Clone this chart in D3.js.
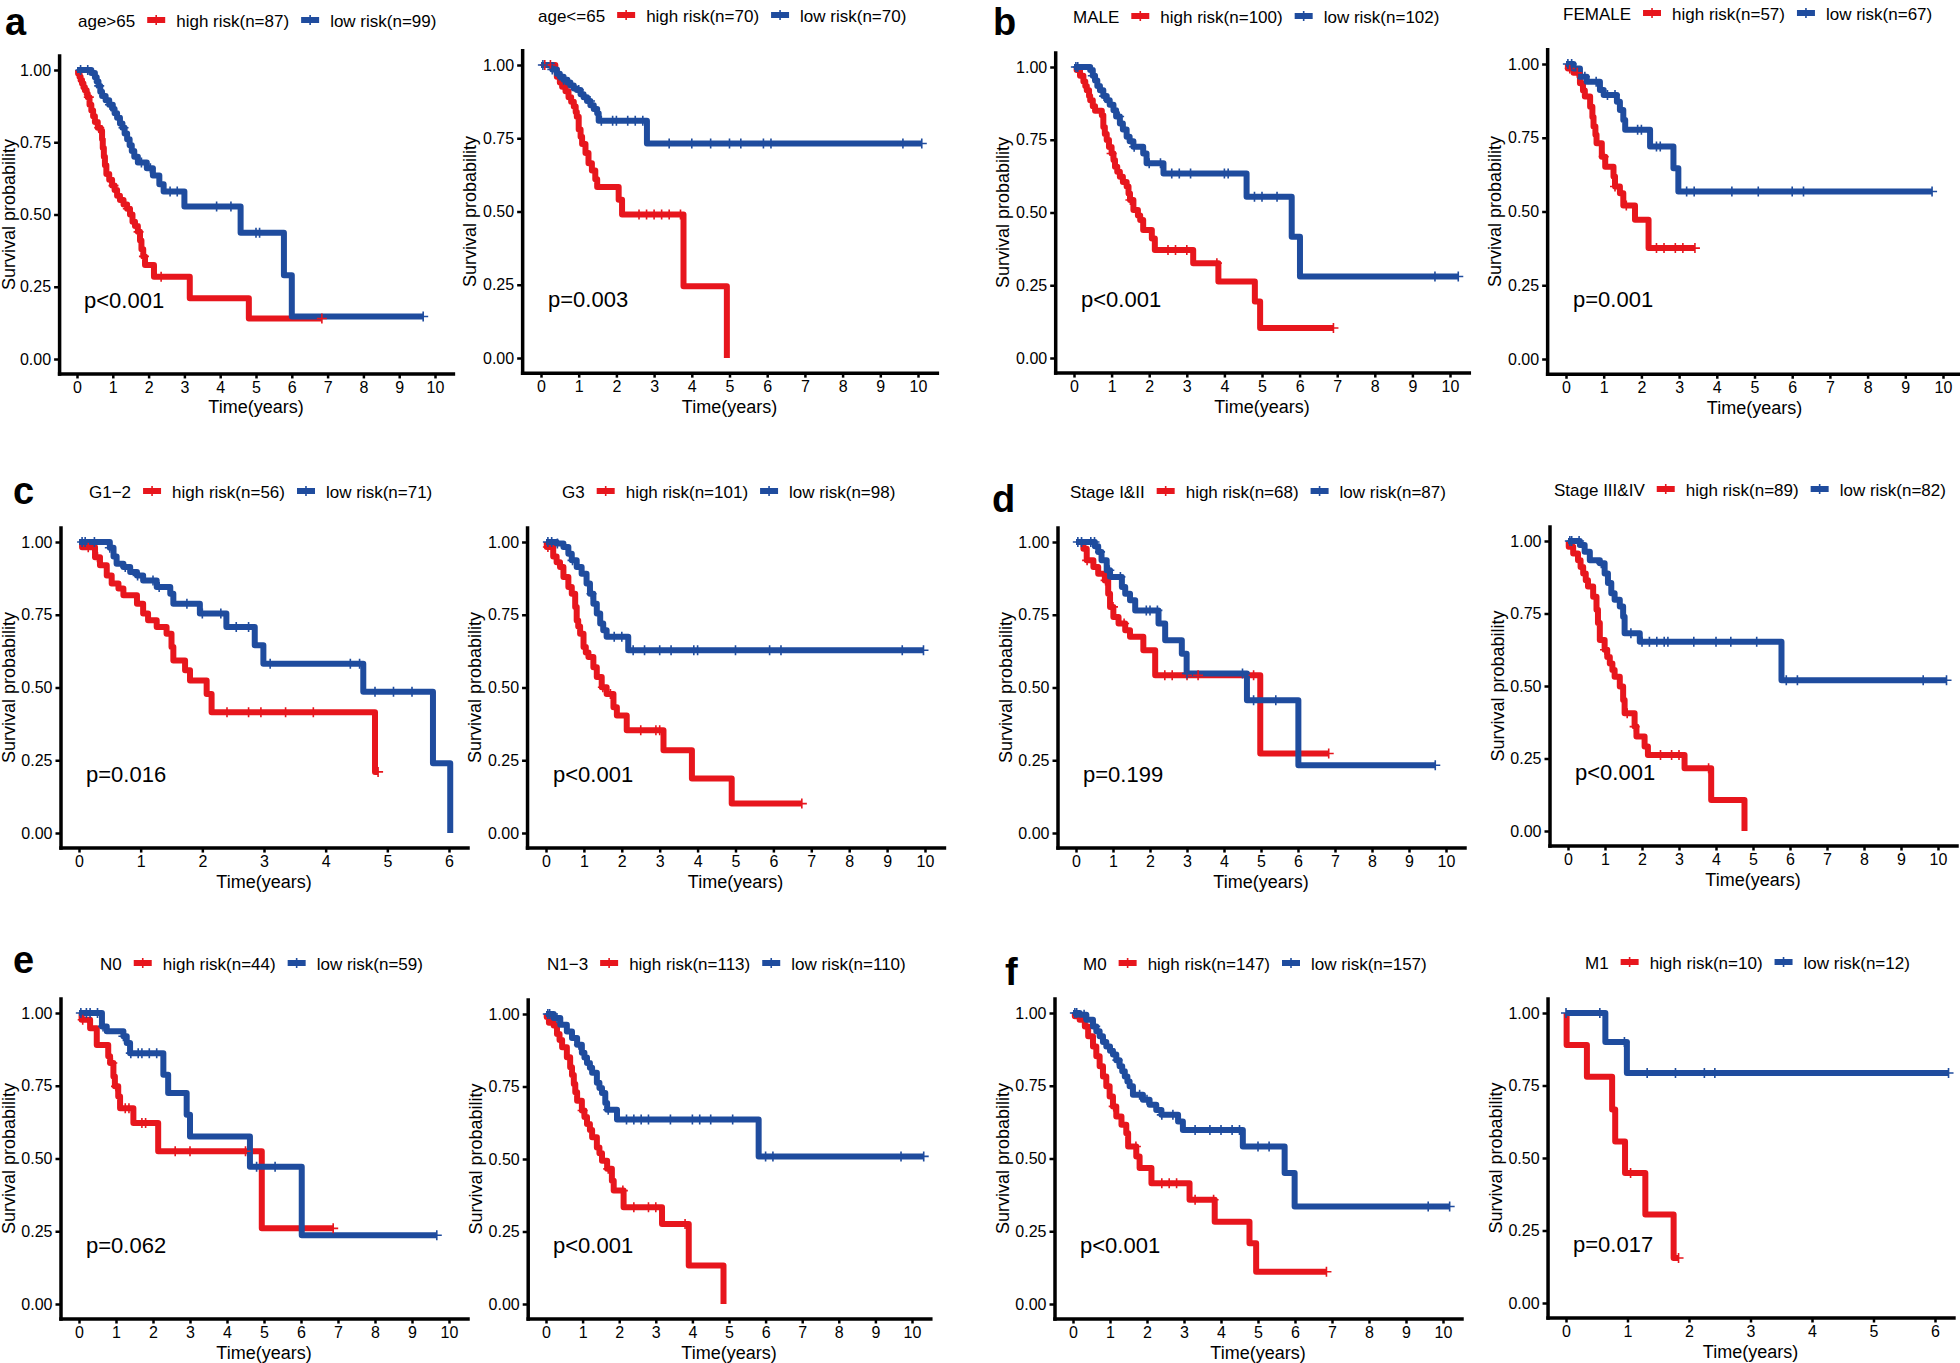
<!DOCTYPE html>
<html>
<head>
<meta charset="utf-8">
<script src="https://cdn.jsdelivr.net/npm/d3@7"></script>
<style>
  body { margin: 0; background: #fff; }
  svg { display: block; font-family: "Liberation Sans", Arial, sans-serif; }
</style>
</head>
<body>
<svg id="chart" width="1960" height="1363"></svg>
<script>
// ---- panel meta ----
const groupNames = ['age>65', 'age<=65', 'MALE', 'FEMALE', 'G1\u22122', 'G3', 'Stage I&II', 'Stage III&IV', 'N0', 'N1\u22123', 'M0', 'M1'];
const highN = [87, 70, 100, 57, 56, 101, 68, 89, 44, 113, 147, 10];
const lowN = [99, 70, 102, 67, 71, 98, 87, 82, 59, 110, 157, 12];
const pTexts = ['p<0.001', 'p=0.003', 'p<0.001', 'p=0.001', 'p=0.016', 'p<0.001', 'p=0.199', 'p<0.001', 'p=0.062', 'p<0.001', 'p<0.001', 'p=0.017'];
const xMaxYears = [10, 10, 10, 10, 6, 10, 10, 10, 10, 10, 10, 6];
const yTicks = [0, 0.25, 0.5, 0.75, 1];

// ---- KM curves: [time, survival after step]; censor times ----
const a1High = [[0,1],[0.03,0.988],[0.07,0.977],[0.1,0.965],[0.14,0.953],[0.18,0.94],[0.22,0.93],[0.27,0.918],[0.3,0.906],[0.35,0.88],[0.4,0.86],[0.45,0.84],[0.5,0.82],[0.58,0.8],[0.66,0.79],[0.7,0.76],[0.72,0.73],[0.75,0.7],[0.78,0.67],[0.82,0.64],[0.9,0.62],[0.98,0.6],[1.05,0.585],[1.12,0.565],[1.2,0.55],[1.3,0.535],[1.4,0.52],[1.48,0.5],[1.55,0.475],[1.62,0.46],[1.7,0.44],[1.76,0.41],[1.8,0.38],[1.85,0.355],[1.9,0.325],[2.15,0.285],[3.15,0.21],[4.8,0.14],[6.84,0.14]];
const a1HighCens = [0.33, 0.62, 1.02, 1.42, 1.72, 1.87, 2.35, 6.84];
const a1Low = [[0,1],[0.4,0.99],[0.5,0.975],[0.55,0.96],[0.6,0.945],[0.65,0.925],[0.7,0.91],[0.8,0.895],[0.9,0.88],[1.0,0.865],[1.05,0.85],[1.12,0.835],[1.2,0.815],[1.27,0.8],[1.33,0.78],[1.4,0.76],[1.47,0.74],[1.53,0.72],[1.6,0.7],[1.7,0.68],[1.95,0.66],[2.12,0.635],[2.3,0.605],[2.42,0.58],[3.0,0.528],[4.57,0.437],[5.78,0.29],[6.0,0.147],[9.67,0.147]];
const a1LowCens = [0.1, 0.3, 0.62, 0.92, 1.3, 1.8, 2.05, 2.6, 2.8, 3.9, 4.3, 5.0, 5.1, 9.67];

const a2High = [[0,1],[0.38,0.985],[0.42,0.96],[0.5,0.94],[0.56,0.926],[0.65,0.91],[0.73,0.89],[0.8,0.875],[0.87,0.858],[0.92,0.84],[0.95,0.823],[1.0,0.78],[1.05,0.755],[1.09,0.73],[1.18,0.7],[1.26,0.665],[1.35,0.64],[1.44,0.61],[1.49,0.584],[2.06,0.54],[2.15,0.49],[3.78,0.245],[4.93,0]];
const a2HighCens = [0.1, 0.25, 2.6, 2.8, 3.0, 3.2, 3.4, 3.7];
const a2Low = [[0,1],[0.3,0.985],[0.42,0.97],[0.5,0.96],[0.6,0.95],[0.7,0.94],[0.78,0.93],[0.87,0.92],[0.95,0.915],[1.05,0.9],[1.13,0.89],[1.22,0.877],[1.31,0.863],[1.4,0.85],[1.49,0.835],[1.53,0.81],[2.81,0.732],[10.1,0.732]];
const a2LowCens = [0.05, 0.3, 0.6, 1.0, 1.3, 1.6, 1.9, 2.0, 2.3, 2.5, 2.7, 3.4, 4.0, 4.5, 5.0, 5.3, 5.9, 6.1, 9.6, 10.1];

const b1High = [[0,1],[0.07,0.99],[0.16,0.97],[0.25,0.95],[0.3,0.935],[0.34,0.92],[0.4,0.9],[0.43,0.886],[0.5,0.865],[0.56,0.85],[0.74,0.834],[0.78,0.794],[0.82,0.77],[0.87,0.749],[0.93,0.725],[1.0,0.703],[1.05,0.68],[1.09,0.657],[1.15,0.64],[1.22,0.623],[1.3,0.605],[1.4,0.589],[1.45,0.565],[1.49,0.543],[1.58,0.509],[1.7,0.49],[1.76,0.474],[1.84,0.44],[2.07,0.411],[2.15,0.371],[3.17,0.326],[3.84,0.263],[4.81,0.194],[4.95,0.103],[6.9,0.103]];
const b1HighCens = [1.0, 1.5, 2.5, 2.7, 3.0, 3.8, 6.9];
const b1Low = [[0,1],[0.43,0.99],[0.5,0.97],[0.56,0.954],[0.62,0.935],[0.69,0.92],[0.78,0.9],[0.87,0.886],[0.95,0.87],[1.05,0.851],[1.12,0.83],[1.22,0.806],[1.3,0.785],[1.4,0.76],[1.48,0.745],[1.58,0.726],[1.84,0.703],[1.93,0.669],[2.38,0.634],[4.59,0.554],[5.79,0.417],[6.01,0.28],[10.22,0.28]];
const b1LowCens = [0.05, 0.1, 0.5, 0.8, 1.2, 1.6, 2.0, 2.3, 2.6, 2.8, 3.1, 4.0, 4.1, 4.8, 5.0, 5.4, 9.6, 10.22];

const b2High = [[0,1],[0.05,0.985],[0.2,0.97],[0.37,0.935],[0.45,0.91],[0.5,0.89],[0.64,0.855],[0.7,0.82],[0.73,0.788],[0.78,0.76],[0.81,0.731],[0.95,0.686],[1.04,0.652],[1.26,0.619],[1.3,0.585],[1.43,0.562],[1.52,0.52],[1.83,0.472],[2.19,0.376],[3.42,0.376]];
const b2HighCens = [0.1, 0.3, 1.0, 1.3, 1.6, 2.4, 2.6, 2.9, 3.1, 3.42];
const b2Low = [[0,1],[0.2,0.985],[0.37,0.957],[0.55,0.94],[0.9,0.912],[1.0,0.895],[1.35,0.872],[1.43,0.844],[1.52,0.81],[1.57,0.777],[2.23,0.72],[2.85,0.647],[2.98,0.568],[9.71,0.568]];
const b2LowCens = [0.05, 0.15, 0.5, 0.8, 1.1, 1.3, 1.9, 2.0, 2.4, 2.5, 3.2, 3.4, 4.4, 5.1, 6.0, 6.3, 9.71];

const c1High = [[0,1],[0.05,0.982],[0.26,0.948],[0.34,0.92],[0.45,0.885],[0.53,0.857],[0.64,0.84],[0.72,0.817],[0.94,0.788],[1.04,0.754],[1.12,0.731],[1.26,0.708],[1.42,0.685],[1.5,0.639],[1.53,0.593],[1.72,0.559],[1.8,0.524],[2.07,0.478],[2.15,0.415],[4.8,0.21],[4.85,0.21]];
const c1HighCens = [0.15, 0.3, 2.4, 2.75, 2.95, 3.35, 3.8, 4.85];
const c1Low = [[0,1],[0.5,0.98],[0.56,0.95],[0.61,0.925],[0.72,0.914],[0.83,0.897],[0.94,0.885],[1.04,0.868],[1.26,0.845],[1.48,0.822],[1.53,0.788],[1.96,0.754],[2.39,0.708],[2.85,0.645],[2.99,0.582],[4.61,0.485],[5.74,0.24],[6.02,0]];
const c1LowCens = [0.05, 0.1, 0.25, 0.5, 0.75, 0.95, 1.2, 1.3, 1.75, 2.0, 2.3, 2.55, 2.75, 3.1, 4.4, 4.55, 4.8, 5.1, 5.4];

const c2High = [[0,1],[0.02,0.983],[0.19,0.95],[0.28,0.93],[0.37,0.914],[0.46,0.88],[0.59,0.845],[0.68,0.822],[0.77,0.777],[0.81,0.73],[0.85,0.71],[0.9,0.685],[0.99,0.639],[1.05,0.62],[1.12,0.605],[1.25,0.57],[1.34,0.536],[1.47,0.501],[1.6,0.478],[1.78,0.432],[1.87,0.404],[2.13,0.353],[3.1,0.284],[3.85,0.187],[4.9,0.101],[6.75,0.101]];
const c2HighCens = [0.05, 1.5, 1.7, 2.5, 2.9, 3.0, 6.75];
const c2Low = [[0,1],[0.28,0.995],[0.46,0.983],[0.59,0.96],[0.68,0.937],[0.81,0.914],[0.94,0.891],[1.07,0.857],[1.16,0.822],[1.25,0.788],[1.34,0.754],[1.43,0.72],[1.51,0.697],[1.6,0.674],[2.17,0.628],[9.96,0.628]];
const c2LowCens = [0.05, 0.15, 0.3, 0.7, 1.2, 1.8, 2.0, 2.3, 2.6, 3.0, 3.3, 3.9, 4.0, 5.0, 5.9, 6.2, 9.4, 9.96];

const d1High = [[0,1],[0.2,0.977],[0.29,0.937],[0.47,0.914],[0.6,0.891],[0.78,0.868],[0.87,0.822],[0.92,0.777],[1.01,0.742],[1.15,0.72],[1.33,0.697],[1.46,0.674],[1.82,0.628],[2.14,0.542],[4.98,0.273],[6.83,0.273]];
const d1HighCens = [0.3, 0.8, 1.0, 1.3, 2.4, 2.6, 3.0, 3.3, 4.8, 6.83];
const d1Low = [[0,1],[0.51,0.985],[0.6,0.966],[0.69,0.937],[0.83,0.903],[0.92,0.88],[1.24,0.845],[1.33,0.822],[1.46,0.8],[1.6,0.765],[2.23,0.72],[2.41,0.662],[2.86,0.616],[2.99,0.548],[4.62,0.456],[6.01,0.233],[9.71,0.233]];
const d1LowCens = [0.05, 0.15, 0.4, 0.5, 0.65, 0.9, 1.2, 1.9, 2.0, 2.2, 3.0, 4.5, 4.8, 5.4, 9.71];

const d2High = [[0,1],[0.02,0.98],[0.14,0.957],[0.27,0.934],[0.34,0.91],[0.41,0.888],[0.48,0.865],[0.54,0.843],[0.68,0.808],[0.77,0.763],[0.81,0.717],[0.86,0.659],[0.99,0.625],[1.06,0.6],[1.13,0.578],[1.2,0.555],[1.26,0.532],[1.4,0.498],[1.49,0.452],[1.53,0.406],[1.8,0.36],[1.85,0.326],[2.07,0.291],[2.16,0.262],[3.15,0.216],[3.87,0.107],[4.77,0]];
const d2HighCens = [1.0, 1.6, 1.8, 2.5, 2.8, 3.0, 3.8];
const d2Low = [[0,1],[0.32,0.986],[0.45,0.963],[0.59,0.934],[0.86,0.923],[0.99,0.888],[1.08,0.855],[1.17,0.82],[1.26,0.797],[1.4,0.774],[1.49,0.739],[1.53,0.682],[1.94,0.653],[5.77,0.52],[10.23,0.52]];
const d2LowCens = [0.05, 0.1, 0.3, 0.9, 1.7, 2.0, 2.2, 2.4, 2.6, 2.7, 3.4, 4.0, 4.4, 5.1, 5.9, 6.2, 9.6, 10.23];

const e1High = [[0,1],[0.07,0.977],[0.3,0.948],[0.48,0.89],[0.79,0.851],[0.84,0.828],[0.93,0.782],[0.97,0.748],[1.06,0.713],[1.11,0.673],[1.47,0.622],[2.14,0.525],[4.94,0.26],[6.87,0.26]];
const e1HighCens = [0.1, 0.9, 1.0, 1.25, 1.35, 1.7, 1.8, 2.6, 3.0, 4.5, 6.87];
const e1Low = [[0,1],[0.62,0.954],[0.75,0.937],[1.2,0.92],[1.29,0.897],[1.38,0.862],[2.28,0.788],[2.41,0.725],[2.91,0.65],[3.0,0.576],[4.62,0.472],[6.02,0.236],[9.67,0.236]];
const e1LowCens = [0.05, 0.2, 0.3, 0.5, 0.65, 1.2, 1.4, 1.6, 1.7, 1.9, 2.1, 4.8, 5.3, 9.67];

const e2High = [[0,1],[0.02,0.99],[0.08,0.97],[0.21,0.96],[0.3,0.931],[0.37,0.91],[0.44,0.885],[0.57,0.851],[0.66,0.816],[0.71,0.79],[0.76,0.759],[0.8,0.73],[0.85,0.701],[0.98,0.667],[1.05,0.645],[1.12,0.621],[1.2,0.6],[1.26,0.575],[1.39,0.54],[1.46,0.52],[1.53,0.494],[1.67,0.466],[1.8,0.425],[1.85,0.391],[2.12,0.334],[3.17,0.276],[3.9,0.133],[4.85,0]];
const e2HighCens = [1.0, 1.7, 2.1, 2.4, 2.8, 3.0, 3.8];
const e2Low = [[0,1],[0.21,0.986],[0.39,0.963],[0.57,0.94],[0.71,0.917],[0.85,0.894],[0.98,0.866],[1.05,0.85],[1.12,0.831],[1.2,0.815],[1.26,0.797],[1.39,0.763],[1.46,0.745],[1.53,0.728],[1.62,0.693],[1.67,0.67],[1.94,0.636],[5.81,0.509],[10.32,0.509]];
const e2LowCens = [0.05, 0.1, 0.3, 0.9, 1.7, 2.2, 2.4, 2.6, 2.8, 3.4, 4.0, 4.2, 4.5, 5.1, 6.0, 6.2, 9.7, 10.32];

const f1High = [[0,1],[0.05,0.989],[0.18,0.977],[0.32,0.954],[0.41,0.92],[0.54,0.885],[0.63,0.851],[0.72,0.817],[0.81,0.782],[0.9,0.748],[0.99,0.713],[1.08,0.679],[1.17,0.644],[1.31,0.616],[1.44,0.587],[1.49,0.541],[1.71,0.507],[1.8,0.467],[2.12,0.415],[3.15,0.358],[3.83,0.283],[4.77,0.209],[4.95,0.111],[6.85,0.111]];
const f1HighCens = [1.1, 1.7, 2.4, 2.6, 2.8, 3.3, 3.8, 6.85];
const f1Low = [[0,1],[0.18,0.994],[0.36,0.977],[0.54,0.954],[0.63,0.937],[0.72,0.92],[0.81,0.9],[0.9,0.885],[1.0,0.87],[1.08,0.857],[1.17,0.838],[1.26,0.817],[1.33,0.8],[1.4,0.782],[1.47,0.765],[1.53,0.748],[1.62,0.719],[1.89,0.702],[2.07,0.685],[2.25,0.667],[2.39,0.65],[2.84,0.627],[2.97,0.598],[4.59,0.541],[5.72,0.45],[5.99,0.335],[10.18,0.335]];
const f1LowCens = [0.05, 0.1, 0.3, 0.6, 1.2, 1.8, 2.0, 2.4, 2.7, 3.3, 3.7, 4.0, 4.3, 4.5, 5.0, 5.3, 9.6, 10.18];

const f2High = [[0,1],[0.01,0.89],[0.34,0.78],[0.75,0.667],[0.8,0.557],[0.96,0.448],[1.29,0.305],[1.75,0.155],[1.83,0.155]];
const f2HighCens = [1.05, 1.83];
const f2Low = [[0,1],[0.64,0.9],[0.99,0.793],[6.22,0.793]];
const f2LowCens = [0.0, 0.55, 0.95, 1.32, 1.78, 2.25, 2.42, 6.22];

const curves = [
  [a1High, a1HighCens, a1Low, a1LowCens], [a2High, a2HighCens, a2Low, a2LowCens],
  [b1High, b1HighCens, b1Low, b1LowCens], [b2High, b2HighCens, b2Low, b2LowCens],
  [c1High, c1HighCens, c1Low, c1LowCens], [c2High, c2HighCens, c2Low, c2LowCens],
  [d1High, d1HighCens, d1Low, d1LowCens], [d2High, d2HighCens, d2Low, d2LowCens],
  [e1High, e1HighCens, e1Low, e1LowCens], [e2High, e2HighCens, e2Low, e2LowCens],
  [f1High, f1HighCens, f1Low, f1LowCens], [f2High, f2HighCens, f2Low, f2LowCens]
];

// ---- layout (pixel of t=0, pixel of t=xMax, pixel of S=1, pixel of S=0, legend anchor) ----
const layout = [
  {x0: 77, xe: 435, y1: 70, y0: 359, legX: 78, legY: 27},
  {x0: 541, xe: 918, y1: 65, y0: 358, legX: 538, legY: 22},
  {x0: 1074, xe: 1450, y1: 67, y0: 358, legX: 1073, legY: 23},
  {x0: 1566, xe: 1943, y1: 64, y0: 359, legX: 1563, legY: 20},
  {x0: 79, xe: 449, y1: 542, y0: 833, legX: 89, legY: 498},
  {x0: 546, xe: 925, y1: 542, y0: 833, legX: 562, legY: 498},
  {x0: 1076, xe: 1446, y1: 542, y0: 833, legX: 1070, legY: 498},
  {x0: 1568, xe: 1938, y1: 541, y0: 831, legX: 1554, legY: 496},
  {x0: 79, xe: 449, y1: 1013, y0: 1304, legX: 100, legY: 970},
  {x0: 546, xe: 912, y1: 1014, y0: 1304, legX: 547, legY: 970},
  {x0: 1073, xe: 1443, y1: 1013, y0: 1304, legX: 1083, legY: 970},
  {x0: 1566, xe: 1935, y1: 1013, y0: 1303, legX: 1585, legY: 969}
];
const letters = [
  {t: 'a', x: 5, y: 35}, {t: 'b', x: 993, y: 35}, {t: 'c', x: 13, y: 504},
  {t: 'd', x: 992, y: 512}, {t: 'e', x: 13, y: 973}, {t: 'f', x: 1005, y: 985}
];

const red = '#E7161D';
const blue = '#1F4C9E';
const lineWidth = 6;
const svg = d3.select('#chart');

function survAt(steps, t) {
  let s = steps[0][1];
  for (const d of steps) {
    if (d[0] <= t) s = d[1];
    else break;
  }
  return s;
}

function plusPath(cx, cy, r) {
  return `M${cx - r},${cy}H${cx + r}M${cx},${cy - r}V${cy + r}`;
}

function drawLegend(g, i) {
  const L = layout[i];
  let cx = L.legX;
  const title = g.append('text')
    .attr('x', cx)
    .attr('y', L.legY)
    .attr('font-size', 17)
    .text(groupNames[i]);
  cx += title.node().getComputedTextLength() + 12;
  const entries = [[red, `high risk(n=${highN[i]})`], [blue, `low risk(n=${lowN[i]})`]];
  entries.forEach(([color, label]) => {
    const ky = L.legY - 7;
    g.append('line')
      .attr('x1', cx).attr('x2', cx + 18)
      .attr('y1', ky).attr('y2', ky)
      .attr('stroke', color)
      .attr('stroke-width', lineWidth);
    g.append('path')
      .attr('d', plusPath(cx + 9, ky, 5))
      .attr('stroke', color)
      .attr('stroke-width', 1.6);
    cx += 18 + 11;
    const t = g.append('text')
      .attr('x', cx)
      .attr('y', L.legY)
      .attr('font-size', 17)
      .text(label);
    cx += t.node().getComputedTextLength() + 12;
  });
}

function drawPanel(i) {
  const L = layout[i];
  const xMax = xMaxYears[i];
  const pad = 0.05;
  const wx = L.xe - L.x0;
  const hy = L.y0 - L.y1;
  const x = d3.scaleLinear()
    .domain([-pad * xMax, (1 + pad) * xMax])
    .range([L.x0 - pad * wx, L.xe + pad * wx]);
  const y = d3.scaleLinear()
    .domain([-pad, 1 + pad])
    .range([L.y0 + pad * hy, L.y1 - pad * hy]);
  const g = svg.append('g');

  // axes
  const xAxis = g.append('g')
    .attr('transform', `translate(0,${y(-pad)})`)
    .call(d3.axisBottom(x).tickValues(d3.range(0, xMax + 1)).tickFormat(d3.format('d'))
      .tickSize(5).tickPadding(3).tickSizeOuter(0));
  const yAxis = g.append('g')
    .attr('transform', `translate(${x(-pad * xMax)},0)`)
    .call(d3.axisLeft(y).tickValues(yTicks).tickFormat(d3.format('.2f'))
      .tickSize(5).tickPadding(3).tickSizeOuter(0));
  [xAxis, yAxis].forEach(a => {
    a.select('.domain').attr('stroke', '#000').attr('stroke-width', 3.5).attr('stroke-linecap', 'square');
    a.selectAll('.tick line').attr('stroke', '#000').attr('stroke-width', 2.5);
    a.selectAll('.tick text').attr('fill', '#000').attr('font-size', 16).attr('font-family', null);
  });

  // axis titles
  g.append('text')
    .attr('x', (L.x0 + L.xe) / 2)
    .attr('y', y(-pad) + 40)
    .attr('text-anchor', 'middle')
    .attr('font-size', 18)
    .text('Time(years)');
  const titleX = Math.max(x(-pad * xMax) - 46, 15);
  g.append('text')
    .attr('transform', `translate(${titleX},${(L.y0 + L.y1) / 2}) rotate(-90)`)
    .attr('text-anchor', 'middle')
    .attr('font-size', 18)
    .text('Survival probability');

  // curves
  const [hi, hiCens, lo, loCens] = curves[i];
  const line = d3.line()
    .x(d => x(d[0]))
    .y(d => y(d[1]))
    .curve(d3.curveStepAfter);
  [[hi, red], [lo, blue]].forEach(([steps, color]) => {
    g.append('path')
      .datum(steps)
      .attr('d', line)
      .attr('fill', 'none')
      .attr('stroke', color)
      .attr('stroke-width', lineWidth)
      .attr('stroke-linejoin', 'round');
  });
  [[hi, hiCens, red], [lo, loCens, blue]].forEach(([steps, cens, color]) => {
    g.append('g').selectAll('path')
      .data(cens)
      .join('path')
      .attr('d', t => plusPath(x(t), y(survAt(steps, t)), 5))
      .attr('fill', 'none')
      .attr('stroke', color)
      .attr('stroke-width', 1.6);
  });

  // p value
  g.append('text')
    .attr('x', L.x0 + 7)
    .attr('y', y(0.175))
    .attr('font-size', 22)
    .text(pTexts[i]);

  drawLegend(g, i);
}

d3.range(12).forEach(drawPanel);

svg.append('g').selectAll('text')
  .data(letters)
  .join('text')
  .attr('x', d => d.x)
  .attr('y', d => d.y)
  .attr('font-size', 38)
  .attr('font-weight', 'bold')
  .text(d => d.t);
</script>
</body>
</html>
